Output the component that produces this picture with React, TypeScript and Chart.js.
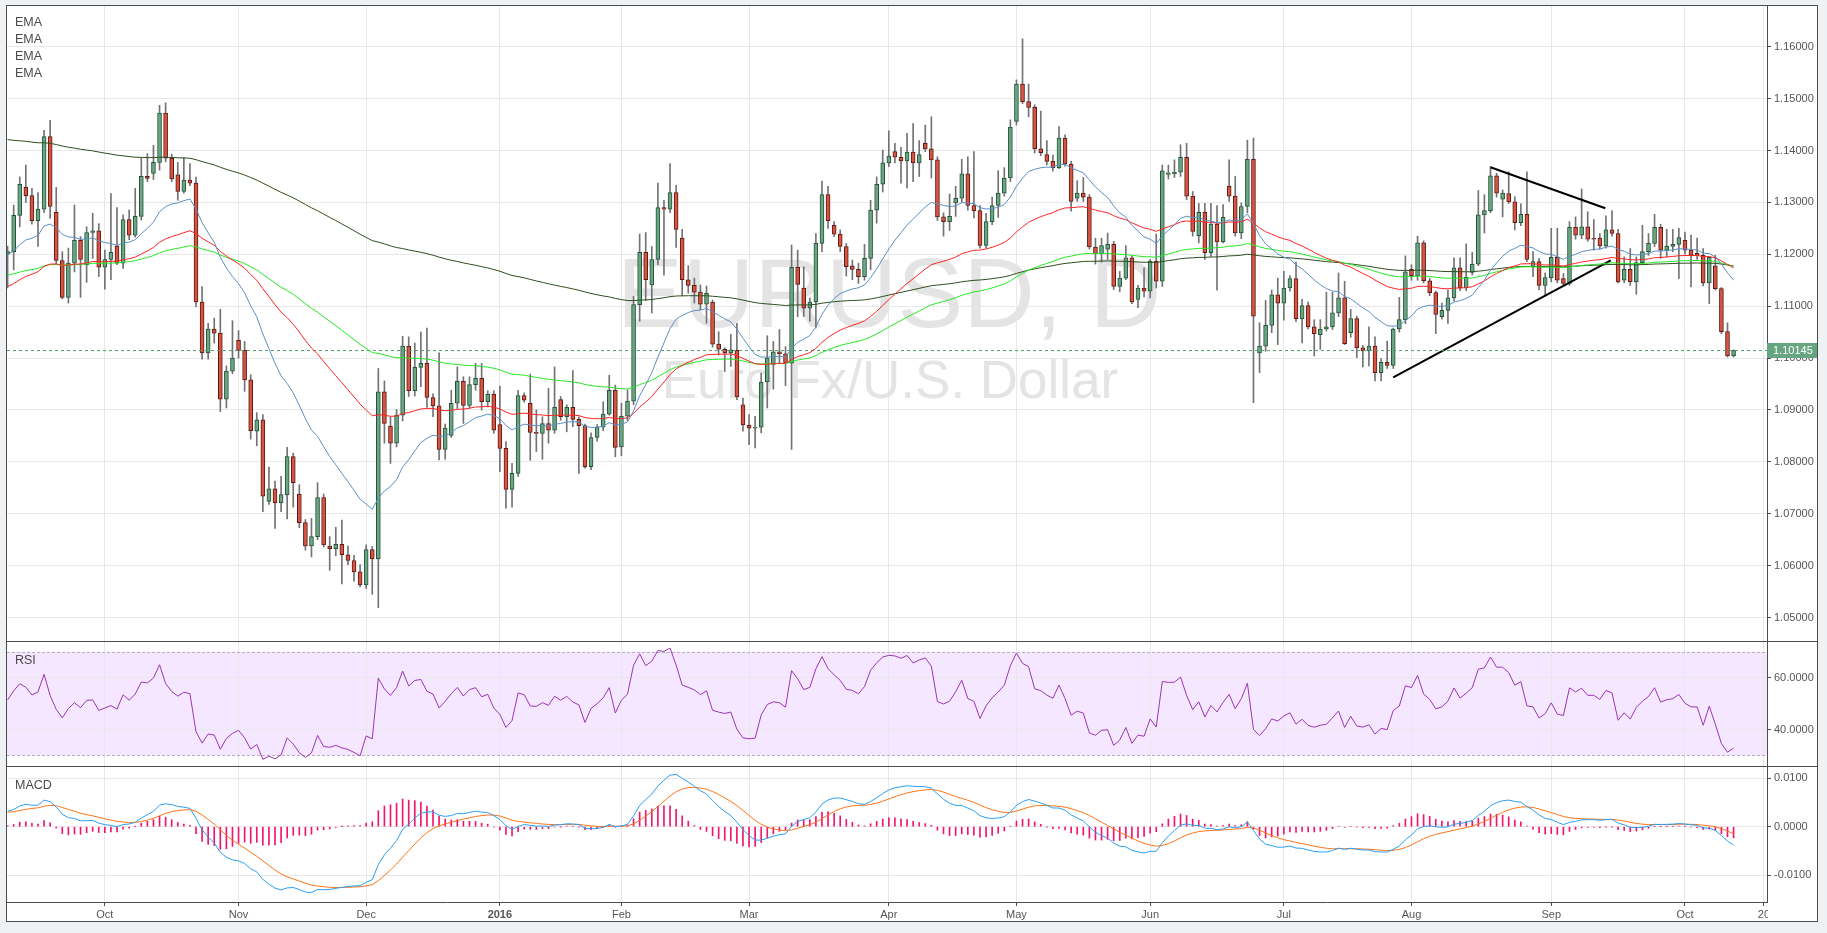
import { useEffect, useRef } from "react"
import { Chart, registerables } from "chart.js"

Chart.register(...registerables)

const FONT = "'Liberation Sans', Arial, sans-serif"
Chart.defaults.font.family = FONT

// EUR/USD daily, 9 Sep 2015 .. 13 Oct 2016 (one entry per trading day)
const opens = [
  1.1200, 1.1205, 1.1275, 1.1329, 1.1313, 1.1265, 1.1287, 1.1427, 1.1281, 1.1188,
  1.1117, 1.1183, 1.1227, 1.1180, 1.1242, 1.1245, 1.1175, 1.1190, 1.1216, 1.1183,
  1.1267, 1.1237, 1.1273, 1.1350, 1.1356, 1.1377, 1.1472, 1.1385, 1.1353, 1.1321,
  1.1343, 1.1337, 1.1108, 1.1010, 1.1056, 1.1048, 1.0921, 1.0975, 1.1034, 1.1015,
  1.0958, 1.0859, 1.0881, 1.0724, 1.0748, 1.0721, 1.0737, 1.0810, 1.0738, 1.0683,
  1.0638, 1.0656, 1.0731, 1.0638, 1.0633, 1.0641, 1.0621, 1.0610, 1.0588, 1.0563,
  1.0631, 1.0613, 1.0935, 1.0869, 1.0836, 1.0890, 1.1023, 1.0937, 1.0982, 1.0990,
  1.0924, 1.0908, 1.0824, 1.0851, 1.0913, 1.0955, 1.0909, 1.0949, 1.0961, 1.0916,
  1.0930, 1.0872, 1.0826, 1.0747, 1.0778, 1.0928, 1.0913, 1.0857, 1.0855, 1.0874,
  1.0861, 1.0920, 1.0887, 1.0905, 1.0882, 1.0870, 1.0791, 1.0847, 1.0867, 1.0892,
  1.0938, 1.0829, 1.0888, 1.0917, 1.1103, 1.1204, 1.1141, 1.1190, 1.1290, 1.1287,
  1.1319, 1.1231, 1.1151, 1.1140, 1.1127, 1.1104, 1.1108, 1.1027, 1.1017, 1.1010,
  1.1015, 1.0910, 1.0871, 1.0865, 1.0867, 1.0954, 1.0988, 1.1012, 1.1008, 1.0990,
  1.1175, 1.1135, 1.1096, 1.1108, 1.1221, 1.1315, 1.1256, 1.1239, 1.1215, 1.1178,
  1.1171, 1.1157, 1.1192, 1.1285, 1.1335, 1.1376, 1.1398, 1.1387, 1.1380, 1.1397,
  1.1376, 1.1414, 1.1403, 1.1382, 1.1272, 1.1263, 1.1299, 1.1308, 1.1355, 1.1294,
  1.1284, 1.1217, 1.1263, 1.1294, 1.1318, 1.1347, 1.1456, 1.1528, 1.1494, 1.1483,
  1.1403, 1.1392, 1.1379, 1.1367, 1.1424, 1.1374, 1.1308, 1.1318, 1.1310, 1.1214,
  1.1201, 1.1210, 1.1219, 1.1138, 1.1154, 1.1193, 1.1113, 1.1135, 1.1129, 1.1187,
  1.1148, 1.1354, 1.1355, 1.1358, 1.1387, 1.1312, 1.1236, 1.1281, 1.1203, 1.1258,
  1.1224, 1.1331, 1.1312, 1.1241, 1.1292, 1.1383, 1.1010, 1.1023, 1.1063, 1.1122,
  1.1106, 1.1135, 1.1153, 1.1076, 1.1101, 1.1060, 1.1045, 1.1056, 1.1060, 1.1087,
  1.1116, 1.1049, 1.1076, 1.1020, 1.1014, 1.1023, 1.0972, 1.0992, 1.0986, 1.1056,
  1.1074, 1.1171, 1.1159, 1.1222, 1.1149, 1.1126, 1.1080, 1.1092, 1.1116, 1.1174,
  1.1135, 1.1165, 1.1181, 1.1276, 1.1284, 1.1351, 1.1306, 1.1317, 1.1301, 1.1261,
  1.1277, 1.1175, 1.1186, 1.1140, 1.1155, 1.1194, 1.1153, 1.1144, 1.1252, 1.1237,
  1.1253, 1.1231, 1.1231, 1.1216, 1.1247, 1.1240, 1.1150, 1.1171, 1.1147, 1.1184,
  1.1205, 1.1221, 1.1252, 1.1208, 1.1215, 1.1219, 1.1227, 1.1208, 1.1202, 1.1198,
  1.1145, 1.1178, 1.1134, 1.1051, 1.1004,
]
const highs = [
  1.1216, 1.1295, 1.1349, 1.1372, 1.1327, 1.1319, 1.1439, 1.1458, 1.1329, 1.1205,
  1.1212, 1.1295, 1.1234, 1.1253, 1.1279, 1.1259, 1.1208, 1.1317, 1.1290, 1.1276,
  1.1285, 1.1327, 1.1385, 1.1394, 1.1410, 1.1487, 1.1492, 1.1393, 1.1377, 1.1387,
  1.1375, 1.1349, 1.1138, 1.1067, 1.1077, 1.1094, 1.0985, 1.1072, 1.1053, 1.1032,
  1.0968, 1.0895, 1.0891, 1.0790, 1.0763, 1.0772, 1.0828, 1.0817, 1.0756, 1.0689,
  1.0691, 1.0760, 1.0738, 1.0656, 1.0674, 1.0688, 1.0638, 1.0620, 1.0602, 1.0640,
  1.0637, 1.0980, 1.0956, 1.0887, 1.0901, 1.1042, 1.1041, 1.1029, 1.1050, 1.1058,
  1.0931, 1.1010, 1.0873, 1.0938, 1.0983, 1.0964, 1.0964, 1.0990, 1.0990, 1.0937,
  1.0937, 1.0946, 1.0839, 1.0797, 1.0938, 1.0933, 1.0969, 1.0900, 1.0887, 1.0942,
  1.0983, 1.0926, 1.0910, 1.0976, 1.0887, 1.0873, 1.0856, 1.0872, 1.0916, 1.0967,
  1.0948, 1.0913, 1.0939, 1.1119, 1.1239, 1.1242, 1.1215, 1.1337, 1.1304, 1.1375,
  1.1333, 1.1248, 1.1178, 1.1154, 1.1141, 1.1139, 1.1112, 1.1051, 1.1020, 1.1046,
  1.1067, 1.0923, 1.0891, 1.0888, 1.0971, 1.1043, 1.1032, 1.1055, 1.1022, 1.1218,
  1.1208, 1.1176, 1.1116, 1.1240, 1.1341, 1.1331, 1.1263, 1.1247, 1.1221, 1.1189,
  1.1183, 1.1219, 1.1304, 1.1349, 1.1401, 1.1438, 1.1414, 1.1406, 1.1433, 1.1452,
  1.1419, 1.1449, 1.1465, 1.1388, 1.1280, 1.1316, 1.1331, 1.1383, 1.1388, 1.1398,
  1.1294, 1.1279, 1.1310, 1.1361, 1.1367, 1.1459, 1.1536, 1.1615, 1.1528, 1.1488,
  1.1476, 1.1419, 1.1391, 1.1446, 1.1430, 1.1379, 1.1342, 1.1348, 1.1315, 1.1231,
  1.1231, 1.1241, 1.1225, 1.1167, 1.1217, 1.1196, 1.1140, 1.1174, 1.1190, 1.1239,
  1.1372, 1.1372, 1.1382, 1.1411, 1.1414, 1.1321, 1.1298, 1.1298, 1.1298, 1.1294,
  1.1296, 1.1382, 1.1350, 1.1299, 1.1420, 1.1424, 1.1068, 1.1111, 1.1131, 1.1154,
  1.1167, 1.1159, 1.1185, 1.1113, 1.1108, 1.1074, 1.1074, 1.1127, 1.1127, 1.1164,
  1.1148, 1.1094, 1.1081, 1.1024, 1.1060, 1.1041, 1.0999, 1.1033, 1.1058, 1.1117,
  1.1197, 1.1180, 1.1235, 1.1226, 1.1154, 1.1129, 1.1106, 1.1131, 1.1193, 1.1193,
  1.1220, 1.1204, 1.1323, 1.1315, 1.1369, 1.1356, 1.1324, 1.1359, 1.1311, 1.1297,
  1.1359, 1.1205, 1.1192, 1.1164, 1.1250, 1.1250, 1.1163, 1.1263, 1.1272, 1.1326,
  1.1282, 1.1267, 1.1240, 1.1274, 1.1284, 1.1248, 1.1195, 1.1211, 1.1195, 1.1256,
  1.1240, 1.1277, 1.1258, 1.1248, 1.1248, 1.1250, 1.1243, 1.1237, 1.1231, 1.1211,
  1.1195, 1.1198, 1.1136, 1.1068, 1.1016,
]
const lows = [
  1.1135, 1.1170, 1.1253, 1.1300, 1.1258, 1.1215, 1.1280, 1.1269, 1.1180, 1.1114,
  1.1106, 1.1166, 1.1117, 1.1146, 1.1192, 1.1157, 1.1133, 1.1151, 1.1180, 1.1173,
  1.1228, 1.1233, 1.1266, 1.1340, 1.1344, 1.1362, 1.1378, 1.1340, 1.1304, 1.1318,
  1.1332, 1.1099, 1.0998, 1.0998, 1.1029, 1.0897, 1.0904, 1.0970, 1.1000, 1.0936,
  1.0844, 1.0831, 1.0704, 1.0718, 1.0672, 1.0704, 1.0690, 1.0713, 1.0673, 1.0630,
  1.0617, 1.0650, 1.0636, 1.0591, 1.0619, 1.0565, 1.0602, 1.0570, 1.0559, 1.0556,
  1.0545, 1.0519, 1.0836, 1.0797, 1.0829, 1.0879, 1.0926, 1.0927, 1.0945, 1.0905,
  1.0887, 1.0804, 1.0805, 1.0847, 1.0903, 1.0874, 1.0903, 1.0938, 1.0900, 1.0906,
  1.0855, 1.0781, 1.0711, 1.0713, 1.0772, 1.0915, 1.0803, 1.0820, 1.0805, 1.0836,
  1.0855, 1.0880, 1.0858, 1.0868, 1.0778, 1.0788, 1.0785, 1.0840, 1.0860, 1.0890,
  1.0810, 1.0812, 1.0880, 1.0910, 1.1071, 1.1111, 1.1087, 1.1180, 1.1160, 1.1280,
  1.1213, 1.1120, 1.1125, 1.1106, 1.1093, 1.1067, 1.1021, 1.1006, 1.0974, 1.0984,
  1.0920, 1.0859, 1.0833, 1.0827, 1.0856, 1.0904, 1.0940, 1.0990, 1.0947, 1.0824,
  1.1080, 1.1080, 1.1071, 1.1058, 1.1205, 1.1250, 1.1234, 1.1205, 1.1158, 1.1151,
  1.1144, 1.1150, 1.1170, 1.1260, 1.1320, 1.1369, 1.1376, 1.1337, 1.1328, 1.1340,
  1.1350, 1.1398, 1.1347, 1.1265, 1.1235, 1.1246, 1.1273, 1.1300, 1.1285, 1.1270,
  1.1212, 1.1212, 1.1257, 1.1271, 1.1312, 1.1340, 1.1449, 1.1490, 1.1465, 1.1395,
  1.1390, 1.1372, 1.1360, 1.1365, 1.1370, 1.1283, 1.1302, 1.1302, 1.1210, 1.1181,
  1.1185, 1.1190, 1.1132, 1.1128, 1.1151, 1.1105, 1.1097, 1.1118, 1.1116, 1.1135,
  1.1138, 1.1345, 1.1348, 1.1350, 1.1305, 1.1235, 1.1222, 1.1190, 1.1196, 1.1131,
  1.1222, 1.1302, 1.1235, 1.1230, 1.1280, 1.0914, 1.0972, 1.1013, 1.1049, 1.1026,
  1.1073, 1.1129, 1.1070, 1.1029, 1.1056, 1.1004, 1.1017, 1.1052, 1.1055, 1.1080,
  1.1026, 1.1040, 1.1001, 1.0983, 1.0985, 1.0956, 1.0956, 1.0980, 1.0980, 1.1050,
  1.1066, 1.1150, 1.1150, 1.1145, 1.1120, 1.1047, 1.1075, 1.1067, 1.1110, 1.1130,
  1.1130, 1.1160, 1.1178, 1.1241, 1.1280, 1.1310, 1.1272, 1.1298, 1.1247, 1.1255,
  1.1186, 1.1157, 1.1132, 1.1121, 1.1147, 1.1145, 1.1140, 1.1140, 1.1229, 1.1230,
  1.1225, 1.1208, 1.1210, 1.1212, 1.1235, 1.1145, 1.1145, 1.1140, 1.1123, 1.1180,
  1.1198, 1.1215, 1.1192, 1.1195, 1.1205, 1.1153, 1.1200, 1.1137, 1.1190, 1.1139,
  1.1105, 1.1131, 1.1047, 1.1002, 1.1002,
]
const closes = [
  1.1205, 1.1275, 1.1335, 1.1313, 1.1265, 1.1287, 1.1427, 1.1292, 1.1188, 1.1117,
  1.1183, 1.1227, 1.1190, 1.1242, 1.1245, 1.1175, 1.1190, 1.1204, 1.1183, 1.1267,
  1.1237, 1.1273, 1.1350, 1.1346, 1.1377, 1.1472, 1.1385, 1.1345, 1.1321, 1.1343,
  1.1337, 1.1108, 1.1010, 1.1056, 1.1048, 1.0921, 1.0975, 1.1000, 1.1015, 1.0958,
  1.0860, 1.0881, 1.0734, 1.0748, 1.0721, 1.0737, 1.0810, 1.0760, 1.0683, 1.0638,
  1.0656, 1.0731, 1.0640, 1.0633, 1.0641, 1.0621, 1.0610, 1.0588, 1.0563, 1.0631,
  1.0613, 1.0935, 1.0874, 1.0836, 1.0890, 1.1023, 1.0937, 1.0982, 1.0990, 1.0924,
  1.0908, 1.0824, 1.0865, 1.0913, 1.0955, 1.0909, 1.0949, 1.0961, 1.0916, 1.0930,
  1.0861, 1.0826, 1.0747, 1.0778, 1.0928, 1.0919, 1.0857, 1.0855, 1.0874, 1.0861,
  1.0905, 1.0887, 1.0905, 1.0882, 1.0870, 1.0791, 1.0847, 1.0867, 1.0892, 1.0938,
  1.0828, 1.0888, 1.0917, 1.1103, 1.1204, 1.1151, 1.1190, 1.1290, 1.1287, 1.1319,
  1.1248, 1.1151, 1.1140, 1.1127, 1.1104, 1.1125, 1.1027, 1.1017, 1.1010, 1.1016,
  1.0925, 1.0871, 1.0865, 1.0867, 1.0954, 1.1000, 1.1012, 1.1008, 1.0990, 1.1175,
  1.1142, 1.1096, 1.1108, 1.1221, 1.1315, 1.1265, 1.1239, 1.1215, 1.1176, 1.1171,
  1.1157, 1.1192, 1.1285, 1.1335, 1.1376, 1.1389, 1.1387, 1.1380, 1.1397, 1.1376,
  1.1392, 1.1403, 1.1382, 1.1272, 1.1263, 1.1273, 1.1308, 1.1355, 1.1294, 1.1284,
  1.1217, 1.1263, 1.1294, 1.1318, 1.1347, 1.1445, 1.1528, 1.1494, 1.1483, 1.1403,
  1.1396, 1.1379, 1.1367, 1.1424, 1.1374, 1.1302, 1.1318, 1.1310, 1.1214, 1.1201,
  1.1217, 1.1219, 1.1138, 1.1154, 1.1193, 1.1108, 1.1135, 1.1129, 1.1187, 1.1148,
  1.1361, 1.1357, 1.1358, 1.1387, 1.1312, 1.1244, 1.1281, 1.1203, 1.1258, 1.1224,
  1.1271, 1.1312, 1.1241, 1.1292, 1.1383, 1.1081, 1.1023, 1.1063, 1.1122, 1.1106,
  1.1135, 1.1153, 1.1076, 1.1101, 1.1060, 1.1047, 1.1056, 1.1060, 1.1087, 1.1116,
  1.1028, 1.1076, 1.1020, 1.1014, 1.1023, 1.0972, 1.0992, 1.0986, 1.1056, 1.1074,
  1.1166, 1.1159, 1.1222, 1.1149, 1.1126, 1.1084, 1.1092, 1.1116, 1.1174, 1.1135,
  1.1156, 1.1181, 1.1276, 1.1284, 1.1351, 1.1318, 1.1318, 1.1301, 1.1261, 1.1277,
  1.1190, 1.1186, 1.1140, 1.1155, 1.1194, 1.1150, 1.1144, 1.1252, 1.1237, 1.1253,
  1.1229, 1.1229, 1.1216, 1.1247, 1.1240, 1.1147, 1.1171, 1.1147, 1.1184, 1.1205,
  1.1221, 1.1252, 1.1208, 1.1216, 1.1219, 1.1232, 1.1208, 1.1198, 1.1198, 1.1145,
  1.1194, 1.1134, 1.1051, 1.1004, 1.10145,
]

// bar index of the first trading day of each month, and the label shown there
const monthTicks = [16, 38, 59, 81, 101, 122, 145, 166, 188, 210, 231, 254, 276, 289]
const monthLabels = ["Oct", "Nov", "Dec", "2016", "Feb", "Mar", "Apr", "May", "Jun", "Jul", "Aug", "Sep", "Oct", "20"]
const yearTick = 81

const priceTicks = [1.05, 1.06, 1.07, 1.08, 1.09, 1.1, 1.11, 1.12, 1.13, 1.14, 1.15, 1.16]
const rsiTicks = [40, 60]
const rsiBand = [30, 70]
const macdTicks = [-0.01, 0, 0.01]
const lastPrice = 1.10145

const emaPeriods = [20, 50, 100, 200]
const emaStart = [1.1199, 1.1138, 1.116, 1.1421] // values on the first bar
const emaColors = ["#5a8fc6", "#ff2424", "#26e826", "#2e4d1e"]
const macdStart = [1.12, 1.1168, 0.003] // ema12, ema26, signal on the first bar
const rsiStart = [0.0036, 0.0034] // avg gain, avg loss on the first bar

const upperTrend = [{ x: 244, y: 1.13676 }, { x: 262.9, y: 1.12886 }]
const lowerTrend = [{ x: 228, y: 1.0963 }, { x: 263.8, y: 1.11884 }]

const X_MIN = -0.1
const X_MAX = 289.5
const AXIS_W = 50
const GRID = "#e8e8e8"
const FRAME = "#4d4d4d"
const TEXT = "#555555"

function ema(values: number[], period: number, start: number) {
  const k = 2 / (period + 1)
  let e = start
  return values.map((v, i) => {
    if (i > 0) e = v * k + e * (1 - k)
    return e
  })
}

function rsi(values: number[], period: number, gain0: number, loss0: number) {
  let g = gain0
  let l = loss0
  return values.map((v, i) => {
    if (i > 0) {
      const d = v - values[i - 1]
      g = (g * (period - 1) + Math.max(d, 0)) / period
      l = (l * (period - 1) + Math.max(-d, 0)) / period
    }
    return 100 - 100 / (1 + g / l)
  })
}

function xAxis(withLabels: boolean) {
  return {
    type: "linear" as const,
    min: X_MIN,
    max: X_MAX,
    offset: false,
    afterBuildTicks: (axis: any) => {
      axis.ticks = monthTicks.map((value) => ({ value }))
    },
    afterFit: (axis: any) => {
      axis.height = withLabels ? 19 : 0
      axis.paddingLeft = 0
      axis.paddingRight = 0
    },
    grid: { color: GRID, offset: false, drawTicks: withLabels, tickLength: 4, tickColor: FRAME },
    border: { display: withLabels, color: FRAME },
    ticks: {
      display: withLabels,
      autoSkip: false,
      maxRotation: 0,
      padding: 2,
      color: TEXT,
      font: (ctx: any) => ({
        family: FONT,
        size: 11,
        weight: ctx.tick && ctx.tick.value === yearTick ? "bold" : "normal",
      }),
      callback: (_v: any, i: number) => monthLabels[i],
    },
  }
}

function yAxis(min: number, max: number, ticks: number[], digits: number) {
  return {
    position: "right" as const,
    min,
    max,
    afterBuildTicks: (axis: any) => {
      axis.ticks = ticks.map((value) => ({ value }))
    },
    afterFit: (axis: any) => {
      axis.width = AXIS_W
      axis.paddingTop = 0
      axis.paddingBottom = 0
    },
    grid: { color: GRID, drawTicks: true, tickLength: 4, tickColor: FRAME },
    border: { display: true, color: FRAME },
    ticks: {
      color: TEXT,
      padding: 3,
      font: { family: FONT, size: 11 },
      callback: (v: any) => Number(v).toFixed(digits),
    },
  }
}

const watermark = {
  id: "watermark",
  beforeDatasetsDraw(chart: any) {
    const { ctx } = chart
    ctx.save()
    ctx.fillStyle = "#e4e4e4"
    ctx.textAlign = "center"
    ctx.textBaseline = "alphabetic"
    ctx.font = `99px ${FONT}`
    ctx.fillText("EURUSD, D", 882, 321)
    ctx.font = `53px ${FONT}`
    ctx.fillText("Euro Fx/U.S. Dollar", 883, 392)
    ctx.restore()
  },
}

const priceTag = {
  id: "priceTag",
  afterDraw(chart: any) {
    const { ctx, chartArea, scales } = chart
    const y = scales.y.getPixelForValue(lastPrice)
    ctx.save()
    ctx.fillStyle = "#66a57f"
    ctx.fillRect(chartArea.right, Math.round(y) - 8, AXIS_W, 15)
    ctx.fillStyle = "#ffffff"
    ctx.font = `11px ${FONT}`
    ctx.textBaseline = "middle"
    ctx.textAlign = "left"
    ctx.fillText(lastPrice.toFixed(5), chartArea.right + 6, Math.round(y))
    ctx.restore()
  },
}

// the time scale is cut off where the price scale begins
const timeClip = {
  id: "timeClip",
  afterDraw(chart: any) {
    const { ctx, chartArea } = chart
    ctx.save()
    ctx.fillStyle = "#ffffff"
    ctx.fillRect(chartArea.right + 1, chartArea.bottom + 1, AXIS_W, chart.height - chartArea.bottom)
    ctx.restore()
  },
}

const rsiZone = {
  id: "rsiZone",
  beforeDraw(chart: any) {
    const { ctx, chartArea, scales } = chart
    const top = scales.y.getPixelForValue(rsiBand[1])
    const bottom = scales.y.getPixelForValue(rsiBand[0])
    ctx.save()
    ctx.fillStyle = "rgba(153, 21, 255, 0.1)"
    ctx.fillRect(chartArea.left, top, chartArea.right - chartArea.left, bottom - top)
    ctx.restore()
  },
  beforeDatasetsDraw(chart: any) {
    const { ctx, chartArea, scales } = chart
    ctx.save()
    ctx.strokeStyle = "#b9afc0"
    ctx.lineWidth = 1
    ctx.setLineDash([3, 2])
    rsiBand.forEach((v) => {
      const y = Math.round(scales.y.getPixelForValue(v)) + 0.5
      ctx.beginPath()
      ctx.moveTo(chartArea.left, y)
      ctx.lineTo(chartArea.right, y)
      ctx.stroke()
    })
    ctx.restore()
  },
}

export default function App() {
  const mainRef = useRef<HTMLCanvasElement>(null)
  const rsiRef = useRef<HTMLCanvasElement>(null)
  const macdRef = useRef<HTMLCanvasElement>(null)

  useEffect(() => {
    if (!mainRef.current || !rsiRef.current || !macdRef.current) return
    const charts: Chart[] = []

    const idx = closes.map((_, i) => i)
    const up = idx.map((i) => closes[i] >= opens[i])

    const bodies = idx.map((i) => {
      const lo = Math.min(opens[i], closes[i])
      const hi = Math.max(opens[i], closes[i])
      return { x: i, y: [lo, Math.max(hi, lo + 0.00008)] }
    })
    const wicks = idx.map((i) => ({ x: i, y: [lows[i], highs[i]] }))

    const emaSets = emaPeriods.map((p, k) => {
      const values = ema(closes, p, emaStart[k])
      return {
        type: "line" as const,
        label: "EMA",
        data: values.map((y, i) => ({ x: i, y })),
        borderColor: emaColors[k],
        borderWidth: 1,
        pointRadius: 0,
        tension: 0,
        order: 0,
      }
    })

    const lineStyle = { type: "line" as const, pointRadius: 0, tension: 0, order: 0 }

    charts.push(
      new Chart(mainRef.current, {
        type: "bar",
        data: {
          datasets: [
            ...emaSets,
            {
              ...lineStyle,
              data: [{ x: X_MIN, y: lastPrice }, { x: X_MAX, y: lastPrice }],
              borderColor: "#4f9d6c",
              borderWidth: 1,
              borderDash: [3, 3],
            },
            { ...lineStyle, data: upperTrend, borderColor: "#000000", borderWidth: 2 },
            { ...lineStyle, data: lowerTrend, borderColor: "#000000", borderWidth: 2 },
            {
              type: "bar" as const,
              data: bodies,
              backgroundColor: up.map((u) => (u ? "#6ba583" : "#d75442")),
              borderColor: up.map((u) => (u ? "#225437" : "#5b1a13")),
              borderWidth: 1,
              borderSkipped: false,
              barThickness: 4,
              grouped: false,
              order: 1,
            },
            {
              type: "bar" as const,
              data: wicks,
              backgroundColor: "#737375",
              barThickness: 1,
              grouped: false,
              order: 2,
            },
          ] as any,
        },
        options: {
          animation: false,
          responsive: true,
          maintainAspectRatio: false,
          events: [],
          layout: { padding: 0 },
          plugins: { legend: { display: false }, tooltip: { enabled: false } },
          scales: {
            x: xAxis(false),
            y: yAxis(1.04549, 1.16784, priceTicks, 5),
          } as any,
        },
        plugins: [watermark, priceTag],
      })
    )

    const rsiValues = rsi(closes, 14, rsiStart[0], rsiStart[1])
    charts.push(
      new Chart(rsiRef.current, {
        type: "line",
        data: {
          datasets: [
            {
              data: rsiValues.map((y, i) => ({ x: i, y })),
              borderColor: "#9b34b4",
              borderWidth: 1,
              pointRadius: 0,
              tension: 0,
            },
          ],
        },
        options: {
          animation: false,
          responsive: true,
          maintainAspectRatio: false,
          events: [],
          layout: { padding: 0 },
          plugins: { legend: { display: false }, tooltip: { enabled: false } },
          scales: {
            x: xAxis(false),
            y: yAxis(25.95, 73.74, rsiTicks, 4),
          } as any,
        },
        plugins: [rsiZone],
      })
    )

    const fast = ema(closes, 12, macdStart[0])
    const slow = ema(closes, 26, macdStart[1])
    const macd = fast.map((v, i) => v - slow[i])
    const signal = ema(macd, 9, macdStart[2])
    charts.push(
      new Chart(macdRef.current, {
        type: "bar",
        data: {
          datasets: [
            { ...lineStyle, data: macd.map((y, i) => ({ x: i, y })), borderColor: "#2a9ff2", borderWidth: 1 },
            { ...lineStyle, data: signal.map((y, i) => ({ x: i, y })), borderColor: "#ff7418", borderWidth: 1 },
            {
              type: "bar" as const,
              data: macd.map((v, i) => ({ x: i, y: v - signal[i] })),
              backgroundColor: "#f2156f",
              barThickness: 1,
              grouped: false,
              order: 1,
            },
          ] as any,
        },
        options: {
          animation: false,
          responsive: true,
          maintainAspectRatio: false,
          events: [],
          layout: { padding: 0 },
          plugins: { legend: { display: false }, tooltip: { enabled: false } },
          scales: {
            x: xAxis(true),
            y: yAxis(-0.01559, 0.01236, macdTicks, 4),
          } as any,
        },
        plugins: [timeClip],
      })
    )

    return () => charts.forEach((c) => c.destroy())
  }, [])

  const label = { position: "absolute" as const, left: 15, fontSize: 12.5, lineHeight: "17px", color: "#4a4a4a" }
  const rule = { position: "absolute" as const, left: 6, width: 1812, height: 1, background: FRAME }

  return (
    <div
      style={{
        position: "fixed",
        left: 0,
        top: 0,
        width: 1827,
        height: 933,
        background: "#eff2f5",
        overflow: "hidden",
        fontFamily: FONT,
      }}
    >
      <div
        style={{
          position: "absolute",
          left: 6,
          top: 5,
          width: 1812,
          height: 917,
          boxSizing: "border-box",
          border: `1px solid ${FRAME}`,
          background: "#ffffff",
        }}
      />
      <div style={{ position: "absolute", left: 7, top: 6, width: 1810, height: 635 }}>
        <canvas ref={mainRef} />
      </div>
      <div style={{ position: "absolute", left: 7, top: 642, width: 1810, height: 124 }}>
        <canvas ref={rsiRef} />
      </div>
      <div style={{ position: "absolute", left: 7, top: 767, width: 1810, height: 154 }}>
        <canvas ref={macdRef} />
      </div>
      <div style={{ ...rule, top: 641 }} />
      <div style={{ ...rule, top: 766 }} />
      <div style={{ ...label, top: 14 }}>
        EMA<br />EMA<br />EMA<br />EMA
      </div>
      <div style={{ ...label, top: 652 }}>RSI</div>
      <div style={{ ...label, top: 777 }}>MACD</div>
    </div>
  )
}
